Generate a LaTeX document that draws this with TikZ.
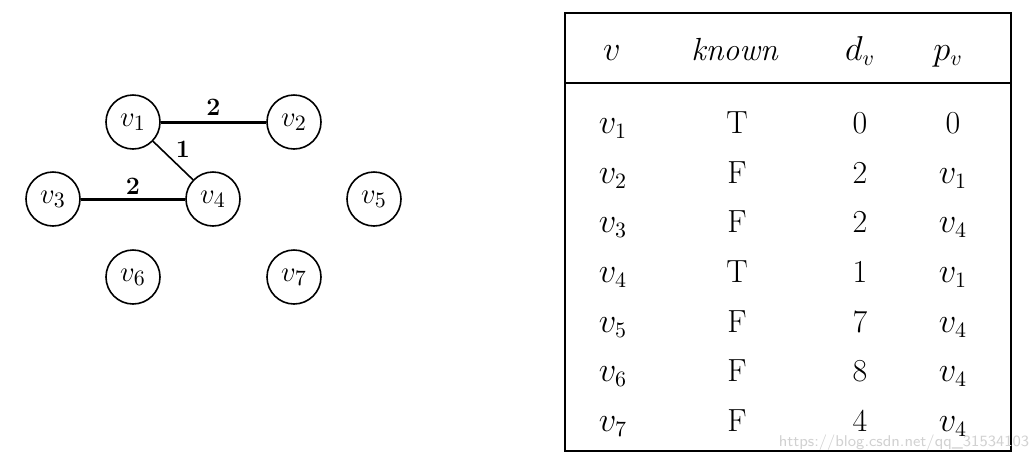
\documentclass[tikz,border=0pt]{standalone}
\usepackage{amsmath}
\usepackage{tikz}
\usetikzlibrary{positioning}

\tikzset{
  vert/.style={circle, draw=black, line width=0.8pt, minimum size=27pt, inner sep=0pt, font=\fontsize{15}{17}\selectfont},
  heavy/.style={line width=1.5pt},
  light/.style={line width=0.8pt},
  wt/.style={font=\fontsize{12.5}{14}\selectfont\bfseries, inner sep=1pt},
  cell/.style={font=\fontsize{16}{19}\selectfont, inner sep=0pt, anchor=base},
}

\begin{document}
\begin{tikzpicture}[x=0.5pt, y=-0.5pt]
            \useasboundingbox (0,0) rectangle (1035,463);

            % graph
            \node[vert] (1) at (133,122) {$v_1$};
            \node[vert] (2) at (294,122) {$v_2$};
            \node[vert] (3) at (53,199) {$v_3$};
            \node[vert] (4) at (213,199) {$v_4$};
            \node[vert] (5) at (374,199) {$v_5$};
            \node[vert] (6) at (133,277) {$v_6$};
            \node[vert] (7) at (294,277) {$v_7$};

            \draw[heavy] (1) -- node[wt, above=1.5pt] {2} (2);
            \draw[light] (1) -- node[wt, above right=0pt] {1} (4);
            \draw[heavy] (3) -- node[wt, above=0.5pt] {2} (4);

            % table
            \draw[line width=1pt] (565,13) rectangle (1011,451);
            \draw[line width=1pt] (565,83) -- (1011,83);

            \node[cell] (hv) at (612,60) {$v$};
            \node[cell] (hk) at (735,60) {\textit{known}};
            \node[cell] (hd) at (860,60) {$d_v$};
            \node[cell] (hp) at (948,60) {$p_v$};

            \node[cell] (n1) at (613,133) {$v_1$};
            \node[cell] (k1) at (737,133) {T};
            \node[cell] (d1) at (860,133) {0};
            \node[cell] (p1) at (953,133) {0};

            \node[cell] (n2) at (613,183) {$v_2$};
            \node[cell] (k2) at (737,183) {F};
            \node[cell] (d2) at (860,183) {2};
            \node[cell] (p2) at (953,183) {$v_1$};

            \node[cell] (n3) at (613,232) {$v_3$};
            \node[cell] (k3) at (737,232) {F};
            \node[cell] (d3) at (860,232) {2};
            \node[cell] (p3) at (953,232) {$v_4$};

            \node[cell] (n4) at (613,282) {$v_4$};
            \node[cell] (k4) at (737,282) {T};
            \node[cell] (d4) at (860,282) {1};
            \node[cell] (p4) at (953,282) {$v_1$};

            \node[cell] (n5) at (613,332) {$v_5$};
            \node[cell] (k5) at (737,332) {F};
            \node[cell] (d5) at (860,332) {7};
            \node[cell] (p5) at (953,332) {$v_4$};

            \node[cell] (n6) at (613,381) {$v_6$};
            \node[cell] (k6) at (737,381) {F};
            \node[cell] (d6) at (860,381) {8};
            \node[cell] (p6) at (953,381) {$v_4$};

            \node[cell] (n7) at (613,431) {$v_7$};
            \node[cell] (k7) at (737,431) {F};
            \node[cell] (d7) at (860,431) {4};
            \node[cell] (p7) at (953,431) {$v_4$};

            \node[font=\sffamily\fontsize{7.8}{9}\selectfont, text=black!18, inner sep=0pt] (wm) at (904,443) {https://blog.csdn.net/qq\_31534103};
        \end{tikzpicture}
\end{document}
